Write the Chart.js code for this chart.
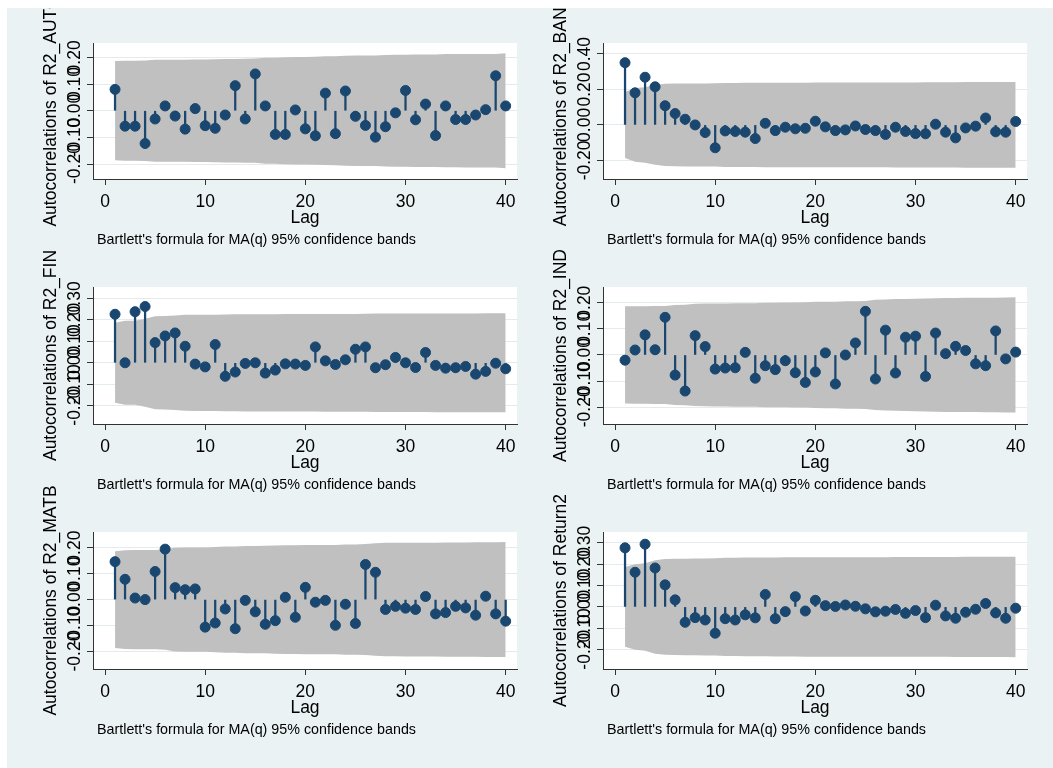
<!DOCTYPE html>
<html>
<head>
<meta charset="utf-8">
<script src="https://cdn.jsdelivr.net/npm/chart.js@4.4.1/dist/chart.umd.min.js"></script>
<style>
  html, body { margin: 0; padding: 0; background: #fff; }
  #graph { position: absolute; left: 7px; top: 8px; width: 1046px; height: 760px; background: #eaf2f3; overflow: hidden; }
  #graph canvas { position: absolute; left: 0; top: 0; }
</style>
</head>
<body>
<div id="graph"></div>
<script>
// lags on the x axis
const lags = [1, 2, 3, 4, 5, 6, 7, 8, 9, 10, 11, 12, 13, 14, 15, 16, 17, 18, 19, 20,
              21, 22, 23, 24, 25, 26, 27, 28, 29, 30, 31, 32, 33, 34, 35, 36, 37, 38, 39, 40];
const xTicks = [0, 10, 20, 30, 40];

// autocorrelations
const acAUTO = [0.080, -0.058, -0.058, -0.123, -0.031, 0.018, -0.020, -0.069, 0.008, -0.056,
                -0.066, -0.016, 0.094, -0.031, 0.138, 0.018, -0.089, -0.089, 0.003, -0.068,
                -0.094, 0.066, -0.086, 0.074, -0.021, -0.055, -0.099, -0.060, -0.008, 0.076,
                -0.034, 0.025, -0.093, 0.018, -0.033, -0.033, -0.016, 0.004, 0.131, 0.018];
const acBANK = [0.351, 0.181, 0.269, 0.215, 0.108, 0.064, 0.032, 0.000, -0.043, -0.129,
                -0.034, -0.037, -0.041, -0.077, 0.009, -0.032, -0.013, -0.022, -0.019, 0.021,
                -0.011, -0.032, -0.028, -0.006, -0.026, -0.032, -0.054, -0.013, -0.037, -0.049,
                -0.050, 0.004, -0.041, -0.073, -0.017, -0.007, 0.039, -0.039, -0.041, 0.019];
const acFIN = [0.226, 0.000, 0.238, 0.262, 0.094, 0.125, 0.139, 0.077, -0.006, -0.019,
               0.085, -0.063, -0.043, -0.003, 0.000, -0.048, -0.034, -0.005, -0.006, -0.012,
               0.074, 0.009, -0.008, 0.014, 0.063, 0.074, -0.023, -0.009, 0.025, 0.000,
               -0.022, 0.048, -0.012, -0.025, -0.023, -0.017, -0.053, -0.040, -0.002, -0.028];
const acIND = [-0.020, 0.019, 0.077, 0.020, 0.144, -0.077, -0.138, 0.074, 0.032, -0.054,
               -0.050, -0.049, 0.010, -0.089, -0.041, -0.056, -0.022, -0.068, -0.105, -0.065,
               0.008, -0.111, 0.000, 0.046, 0.167, -0.092, 0.095, -0.069, 0.068, 0.072,
               -0.082, 0.084, 0.005, 0.033, 0.017, -0.034, -0.041, 0.092, -0.015, 0.011];
const acMATB = [0.146, 0.078, 0.006, 0.000, 0.108, 0.194, 0.046, 0.038, 0.041, -0.106,
                -0.090, -0.036, -0.112, -0.003, -0.047, -0.095, -0.081, 0.009, -0.068, 0.047,
                -0.010, -0.003, -0.099, -0.018, -0.092, 0.135, 0.105, -0.038, -0.026, -0.033,
                -0.038, 0.012, -0.055, -0.050, -0.026, -0.032, -0.060, 0.013, -0.055, -0.083];
const acReturn2 = [0.276, 0.162, 0.293, 0.182, 0.103, 0.033, -0.072, -0.050, -0.061, -0.123,
                   -0.055, -0.061, -0.037, -0.051, 0.058, -0.055, -0.022, 0.048, -0.019, 0.031,
                   0.006, 0.002, 0.009, 0.003, -0.009, -0.023, -0.020, -0.012, -0.030, -0.017,
                   -0.050, 0.008, -0.042, -0.053, -0.025, -0.011, 0.016, -0.028, -0.053, -0.006];

// y tick labels of each panel
const yTicksAUTO = [-0.2, -0.1, 0, 0.1, 0.2];
const yTicksBANK = [-0.2, 0, 0.2, 0.4];
const yTicksFIN = [-0.2, -0.1, 0, 0.1, 0.2, 0.3];
const yTicksIND = [-0.2, -0.1, 0, 0.1, 0.2];
const yTicksMATB = [-0.2, -0.1, 0, 0.1, 0.2];
const yTicksReturn2 = [-0.2, -0.1, 0, 0.1, 0.2, 0.3];

// observations behind the bands (band at lag 1 is about 0.186)
const nObs = 111;

const panels = [
  { name: 'R2_AUTO', ac: acAUTO, yTicks: yTicksAUTO, yMin: -0.256, yMax: 0.254, box: [93, 43, 517, 179] },
  { name: 'R2_BANK', ac: acBANK, yTicks: yTicksBANK, yMin: -0.305, yMax: 0.462, box: [603, 43, 1027, 179] },
  { name: 'R2_FIN', ac: acFIN, yTicks: yTicksFIN, yMin: -0.285, yMax: 0.353, box: [93, 287, 517, 424] },
  { name: 'R2_IND', ac: acIND, yTicks: yTicksIND, yMin: -0.264, yMax: 0.260, box: [603, 287, 1027, 424] },
  { name: 'R2_MATB', ac: acMATB, yTicks: yTicksMATB, yMin: -0.267, yMax: 0.260, box: [93, 532, 517, 669] },
  { name: 'Return2', ac: acReturn2, yTicks: yTicksReturn2, yMin: -0.290, yMax: 0.350, box: [603, 532, 1027, 669] },
];

const NAVY = '#1a476f';
const FONT = '"Liberation Sans", Arial, sans-serif';
const OFF_X = 7, OFF_Y = 8, PAGE_W = 1053, PAGE_H = 768;

// Bartlett's formula for MA(q) 95% bands, as the note under each panel says
function bartlett(ac) {
  let sum = 0;
  return ac.map((r, i) => {
    const se = Math.sqrt((1 + 2 * sum) / nObs);
    sum += r * r;
    return 1.959964 * se;
  });
}

const acfText = {
  id: 'acfText',
  beforeDraw(chart) {
    const { ctx, chartArea: a } = chart;
    ctx.save();
    ctx.fillStyle = '#ffffff';
    ctx.fillRect(a.left, a.top, a.right - a.left, a.bottom - a.top);
    ctx.restore();
  },
  afterDraw(chart) {
    const { ctx, chartArea: a, scales } = chart;
    const opts = chart.options.plugins.acfText;
    ctx.save();
    ctx.fillStyle = '#000';
    ctx.font = '17.5px ' + FONT;

    // y tick labels, turned like the title
    scales.y.ticks.forEach(t => {
      const y = scales.y.getPixelForValue(t.value);
      ctx.save();
      ctx.translate(a.left - 13, y);
      ctx.rotate(-Math.PI / 2);
      ctx.textAlign = 'center';
      ctx.textBaseline = 'alphabetic';
      ctx.fillText(t.value.toFixed(2), 0, 0);
      ctx.restore();
    });

    // y title
    ctx.save();
    ctx.translate(a.left - 37, (a.top + a.bottom) / 2);
    ctx.rotate(-Math.PI / 2);
    ctx.textAlign = 'center';
    ctx.textBaseline = 'alphabetic';
    ctx.fillText('Autocorrelations of ' + opts.name, 0, 0);
    ctx.restore();

    // x tick labels
    ctx.textAlign = 'center';
    ctx.textBaseline = 'middle';
    scales.x.ticks.forEach(t => {
      ctx.fillText(String(t.value), scales.x.getPixelForValue(t.value), a.bottom + 23);
    });
    ctx.fillText('Lag', (a.left + a.right) / 2, a.bottom + 39);

    // note
    ctx.font = '14.3px ' + FONT;
    ctx.textAlign = 'left';
    ctx.fillText("Bartlett's formula for MA(q) 95% confidence bands", a.left + 4, a.bottom + 61);
    ctx.restore();
  }
};

function drawPanel(p) {
  const canvas = document.createElement('canvas');
  canvas.width = PAGE_W - OFF_X;
  canvas.height = PAGE_H - OFF_Y;
  document.getElementById('graph').appendChild(canvas);

  const band = bartlett(p.ac);
  const [L, T, R, B] = p.box;

  new Chart(canvas.getContext('2d'), {
    type: 'scatter',
    data: {
      datasets: [
        {
          type: 'scatter',
          data: lags.map((x, i) => ({ x: x, y: p.ac[i] })),
          pointRadius: 5,
          pointBorderWidth: 1,
          pointBackgroundColor: NAVY,
          pointBorderColor: NAVY,
          order: 0,
        },
        {
          type: 'bar',
          data: lags.map((x, i) => ({ x: x, y: p.ac[i] })),
          backgroundColor: NAVY,
          borderWidth: 0,
          barThickness: 1.6,
          order: 1,
        },
        {
          type: 'line',
          data: lags.map((x, i) => ({ x: x, y: band[i] })),
          borderColor: 'rgba(0,0,0,0)',
          backgroundColor: '#c0c0c0',
          pointRadius: 0,
          fill: '+1',
          tension: 0,
          order: 2,
        },
        {
          type: 'line',
          data: lags.map((x, i) => ({ x: x, y: -band[i] })),
          borderColor: 'rgba(0,0,0,0)',
          pointRadius: 0,
          fill: false,
          tension: 0,
          order: 3,
        },
      ],
    },
    options: {
      responsive: false,
      animation: false,
      events: [],
      layout: {
        autoPadding: false,
        padding: { left: L - OFF_X - 6, top: T - OFF_Y, right: PAGE_W - R, bottom: PAGE_H - B - 6 },
      },
      plugins: {
        legend: { display: false },
        tooltip: { enabled: false },
        acfText: { name: p.name },
      },
      scales: {
        x: {
          type: 'linear',
          min: -1.2,
          max: 41.13,
          offset: false,
          afterBuildTicks: s => { s.ticks = xTicks.map(v => ({ value: v })); },
          afterFit: s => { s.height = 6; },
          ticks: { display: false },
          grid: { offset: false, drawOnChartArea: false, drawTicks: true, tickLength: 6, tickColor: '#333', tickWidth: 1 },
          border: { display: true, color: '#333', width: 1 },
        },
        y: {
          type: 'linear',
          min: p.yMin,
          max: p.yMax,
          afterBuildTicks: s => { s.ticks = p.yTicks.map(v => ({ value: v })); },
          afterFit: s => { s.width = 6; },
          ticks: { display: false },
          grid: { color: '#e3ebef', lineWidth: 1, drawTicks: true, tickLength: 6, tickColor: '#333', tickWidth: 1 },
          border: { display: true, color: '#333', width: 1 },
        },
      },
    },
    plugins: [acfText],
  });
}

panels.forEach(drawPanel);
</script>
</body>
</html>
